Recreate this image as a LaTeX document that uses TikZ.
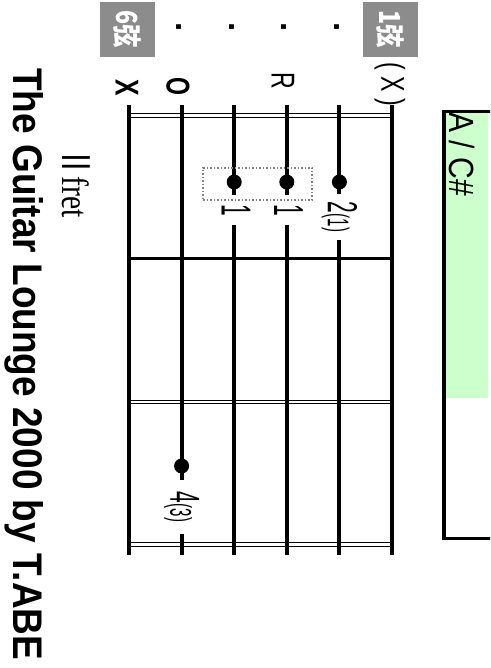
\documentclass[tikz,border=0pt]{standalone}
\usepackage{fontspec}
\setmainfont{Liberation Sans}
\newfontfamily\cjkfont{Noto Sans CJK JP}
\newfontfamily\serffont{Liberation Serif}
\newcommand{\sqz}[2]{\scalebox{#1}[1]{#2}}
\definecolor{chordgreen}{RGB}{204,255,204}
\definecolor{labgray}{RGB}{140,140,140}
\definecolor{barregray}{RGB}{130,130,130}
\begin{document}
\begin{tikzpicture}[x=1pt,y=-1pt,
  guitarstring/.style={line width=4pt},
  thinfret/.style={line width=1pt},
  thickfret/.style={line width=3pt},
  fingerdot/.style={circle,fill=black,inner sep=0pt,minimum size=15pt},
  fing/.style={fill=white,inner sep=0pt,rotate=-90},
  openmark/.style={inner sep=0pt,rotate=-90,font=\fontsize{33}{33}\selectfont},
  strlabel/.style={fill=labgray,minimum size=55pt,inner sep=0pt,text=white,rotate=-90,font=\cjkfont\bfseries\fontsize{29}{29}\selectfont},
  barrebox/.style={draw=barregray,dotted,line width=1.5pt,minimum width=109pt,minimum height=32pt,inner sep=0pt},
]
\useasboundingbox (0,0) rectangle (490,668);
\clip (0,0) rectangle (490,668);

% chord name box
\fill[chordgreen] (446,113) rectangle (488,398);
\draw[line width=3.5pt] (500,111.5) -- (444,111.5) -- (444,538.5) -- (500,538.5);
\node[anchor=base west,rotate=-90,inner sep=0pt] (chordname) at (449,112)
  {\fontsize{35}{35}\selectfont\sqz{0.86}{A / C\#}};

% strings
\foreach \i/\x in {6/129,5/181.6,4/234.2,3/286.8,2/339.4,1/392}{
  \coordinate (s\i t) at (\x,105);
  \coordinate (s\i b) at (\x,555);
  \draw[guitarstring] (s\i t) -- (s\i b);
}

% frets
\draw[thinfret] (129,113.3) -- (392,113.3);
\draw[thinfret] (129,117.3) -- (392,117.3);
\draw[thickfret] (129,258) -- (392,258);
\draw[thinfret] (129,400) -- (392,400);
\draw[thinfret] (129,403.5) -- (392,403.5);
\draw[thinfret] (129,542) -- (392,542);
\draw[thinfret] (129,546.5) -- (392,546.5);

% finger dots
\node[fingerdot] (f4) at (234.2,182) {};
\node[fingerdot] (f3) at (286.8,182) {};
\node[fingerdot] (f2) at (339.4,182) {};
\node[fingerdot] (f5) at (181.6,466) {};

% finger labels
\node[fing,minimum width=30pt] (l4) at (236,210) {\fontsize{42}{42}\selectfont\sqz{0.5}{1}};
\node[fing,minimum width=30pt] (l3) at (288.6,210) {\fontsize{42}{42}\selectfont\sqz{0.5}{1}};
\node[fing,minimum width=46pt] (l2) at (339.4,217) {\sqz{0.5}{\fontsize{42}{42}\selectfont 2\fontsize{30}{30}\selectfont(1)}};
\node[fing,minimum width=54pt] (l5) at (181.6,507) {\sqz{0.5}{\fontsize{42}{42}\selectfont 4\fontsize{30}{30}\selectfont(3)}};

% barre box
\node[barrebox] (barre) at (257.5,184) {};

% open / mute marks
\node[openmark] (m6) at (127,88) {\bfseries\sqz{0.75}{X}};
\node[openmark] (m5) at (178,86) {\bfseries\sqz{0.7}{O}};
\node[openmark] (m3) at (283,81) {\sqz{0.7}{R}};
\node[openmark] (m1) at (390,84) {\sqz{0.7}{( X )}};

% string labels
\node[strlabel] (str6) at (127.5,29.5) {\sqz{0.8}{6弦}};
\node[strlabel] (str1) at (390.5,29.5) {\sqz{0.8}{1弦}};
\node[openmark] (p5) at (179,27) {\bfseries .};
\node[openmark] (p4) at (232,27) {\bfseries .};
\node[openmark] (p3) at (284,27) {\bfseries .};
\node[openmark] (p2) at (337,27) {\bfseries .};

% fret label
\node[anchor=base west,rotate=-90,inner sep=0pt] (fretlabel) at (62,147)
  {\fontsize{38}{38}\selectfont\sqz{0.78}{{\cjkfont Ⅱ}{\serffont fret}}};

% title
\node[anchor=base west,rotate=-90,inner sep=0pt] (title) at (13,68)
  {\resizebox{592pt}{30pt}{\bfseries The Guitar Lounge 2000 by T.ABE}};
\end{tikzpicture}
\end{document}
